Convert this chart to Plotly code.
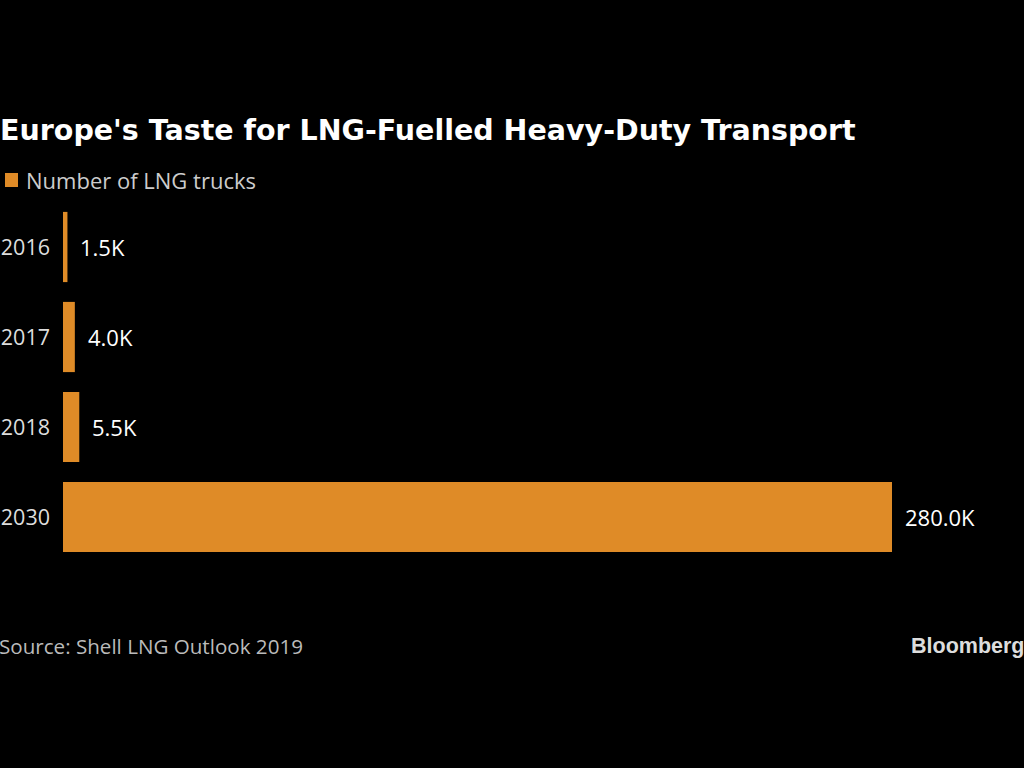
import plotly.graph_objects as go

years = ["2016", "2017", "2018", "2030"]
trucks = [1500, 4000, 5500, 280000]
value_labels = ["1.5K", "4.0K", "5.5K", "280.0K"]

title = "Europe's Taste for LNG-Fuelled Heavy-Duty Transport"
series_name = "Number of LNG trucks"
source = "Source: Shell LNG Outlook 2019"

BAR = "#df8b27"
FONT = "Open Sans"

W, H = 1024, 768
ML, MR, MT, MB = 63, 132, 202, 206
PW = W - ML - MR
PH = H - MT - MB

pos = list(range(len(years)))

fig = go.Figure()
fig.add_trace(go.Bar(
    x=trucks, y=pos, orientation="h", name=series_name,
    marker=dict(color=BAR, line=dict(width=0)),
    width=0.78,
    showlegend=False,
))

for v, p, t in zip(trucks, pos, value_labels):
    fig.add_annotation(x=v, y=p, xref="x", yref="y", text=t, showarrow=False,
                       xanchor="left", yanchor="middle",
                       xshift=11, font=dict(family=FONT, size=22, color="#ffffff"))

def px_x(p):
    return (p - ML) / PW
def px_y(p):
    return (H - MB - p) / PH

# legend (square + text)
fig.add_shape(type="rect", xref="paper", yref="paper",
              x0=px_x(5), x1=px_x(18), y0=px_y(187), y1=px_y(173),
              fillcolor=BAR, line=dict(width=0))
fig.add_annotation(xref="paper", yref="paper", x=px_x(24), y=px_y(180),
                   text=series_name, showarrow=False, xanchor="left", yanchor="middle",
                   font=dict(family=FONT, size=22, color="#cccccc"))

fig.add_annotation(xref="paper", yref="paper", x=px_x(-3), y=px_y(646),
                   text=source, showarrow=False, xanchor="left", yanchor="middle",
                   font=dict(family=FONT, size=20.6, color="#bbbbbb"))
fig.add_annotation(xref="paper", yref="paper", x=px_x(1026), y=px_y(646),
                   text="<b>Bloomberg</b>", showarrow=False, xanchor="right", yanchor="middle",
                   font=dict(family="Liberation Sans", size=21.5, color="#dddddd"))

fig.update_layout(
    width=W, height=H,
    paper_bgcolor="#000000", plot_bgcolor="#000000",
    margin=dict(l=ML, r=MR, t=MT, b=MB),
    title=dict(text="<b>" + title + "</b>", x=0, xref="container", xanchor="left",
               y=1 - 130 / H, yref="container", yanchor="middle",
               font=dict(family="DejaVu Sans", size=28.5, color="#ffffff")),
    xaxis=dict(range=[0, 280000], visible=False, showgrid=False, zeroline=False,
               fixedrange=True),
    yaxis=dict(range=[len(years) - 0.5, -0.5], tickmode="array",
               tickvals=pos, ticktext=years, automargin=False,
               showgrid=False, zeroline=False, showline=False, ticks="",
               ticklabelstandoff=12, fixedrange=True,
               tickfont=dict(family=FONT, size=21.5, color="#dddddd")),
)

fig.write_html("out.html", config={"displayModeBar": False},
               post_script="document.body.style.margin='0';document.body.style.background='#000';")
